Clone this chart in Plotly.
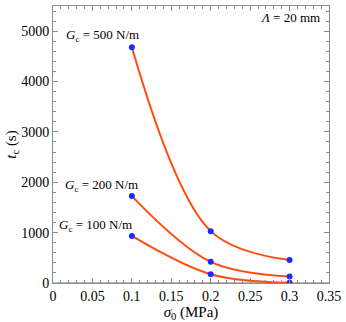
import plotly.graph_objects as go

SIGMA0 = [0.1, 0.2, 0.3]
TC_GC500 = [4680, 1030, 455]
TC_GC200 = [1725, 420, 130]
TC_GC100 = [935, 175, 5]

LABELS = [
    ("<i>G</i><sub>c</sub> = 500 N/m", 0.0625, 4910),
    ("<i>G</i><sub>c</sub> = 200 N/m", 0.062, 1935),
    ("<i>G</i><sub>c</sub> = 100 N/m", 0.054, 1135),
]

LINE_COLOR = "#ff4c0c"
DOT_COLOR = "#1c2bff"
FRAME = "#8c8c8c"
FONT = "Liberation Serif"

fig = go.Figure()

for series in [TC_GC500, TC_GC200, TC_GC100]:
    fig.add_trace(
        go.Scatter(
            x=SIGMA0,
            y=series,
            mode="lines+markers",
            line={"shape": "spline", "smoothing": 1.0, "color": LINE_COLOR, "width": 2},
            marker={"color": DOT_COLOR, "size": 6},
            showlegend=False,
        )
    )

for text, x, y in LABELS:
    fig.add_annotation(x=x, y=y, text=text, showarrow=False,
                       font={"family": FONT, "size": 13, "color": "black"})

fig.add_annotation(x=0.341, y=5265, text="<i>Λ</i> = 20 mm", showarrow=False,
                   xanchor="right", font={"family": FONT, "size": 13, "color": "black"})

axis_common = dict(
    showline=True,
    linecolor=FRAME,
    linewidth=1,
    mirror="allticks",
    ticks="inside",
    tickcolor=FRAME,
    ticklen=5,
    showgrid=False,
    zeroline=False,
    tickfont={"family": FONT, "size": 14, "color": "black"},
)

fig.update_xaxes(
    range=[0, 0.35],
    tickvals=[0, 0.05, 0.1, 0.15, 0.2, 0.25, 0.3, 0.35],
    ticktext=["0", "0.05", "0.1", "0.15", "0.2", "0.25", "0.3", "0.35"],
    minor={"dtick": 0.01, "ticks": "inside", "ticklen": 3, "tickcolor": FRAME, "showgrid": False},
    title={"text": "<i>σ</i><sub>0</sub> (MPa)", "font": {"family": FONT, "size": 15, "color": "black"},
           "standoff": 0},
    **axis_common,
)
fig.update_yaxes(
    range=[0, 5500],
    dtick=1000,
    minor={"dtick": 200, "ticks": "inside", "ticklen": 3, "tickcolor": FRAME, "showgrid": False},
    title={"text": "<i>t</i><sub>c</sub> (s)", "font": {"family": FONT, "size": 15, "color": "black"},
           "standoff": 0},
    **axis_common,
)

fig.add_hline(y=0, line_color="#bdbdbd", line_width=2, layer="below")

fig.update_layout(
    width=346,
    height=322,
    margin=dict(l=53, r=13, t=5, b=39),
    paper_bgcolor="white",
    plot_bgcolor="white",
)

fig.write_html("out.html", config={"displayModeBar": False},
               post_script="document.body.style.margin='0';")
